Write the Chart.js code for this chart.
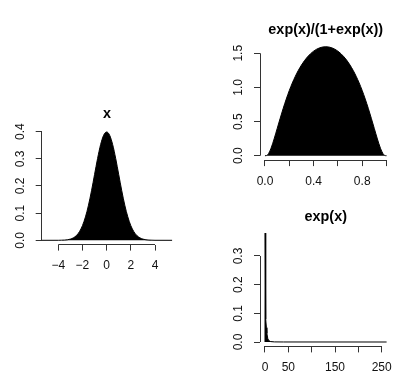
<!DOCTYPE html>
<html>
<head>
<meta charset="utf-8">
<script src="https://cdn.jsdelivr.net/npm/chart.js@4/dist/chart.umd.min.js"></script>
<style>
  html, body { margin: 0; padding: 0; background: #fff; }
  #wrap { position: relative; width: 405px; height: 381px; }
  #wrap canvas { position: absolute; left: 0; top: 0; }
</style>
</head>
<body>
<div id="wrap">
  <canvas id="normChart" width="405" height="381"></canvas>
  <canvas id="logitChart" width="405" height="381"></canvas>
  <canvas id="expChart" width="405" height="381"></canvas>
</div>
<script>
// left panel: density of x
const normX = [-5.37, -4, -3.75, -3.5, -3.25, -3, -2.75, -2.5, -2.25, -2, -1.75, -1.5, -1.25, -1, -0.75, -0.5, -0.25,
  0, 0.25, 0.5, 0.75, 1, 1.25, 1.5, 1.75, 2, 2.25, 2.5, 2.75, 3, 3.25, 3.5, 3.75, 4, 5.43];
const normY = [0, 0.0001, 0.0004, 0.0009, 0.002, 0.0044, 0.0091, 0.0175, 0.0317, 0.054, 0.0863, 0.1295, 0.1826, 0.242, 0.3011, 0.3521, 0.3867,
  0.3989, 0.3867, 0.3521, 0.3011, 0.242, 0.1826, 0.1295, 0.0863, 0.054, 0.0317, 0.0175, 0.0091, 0.0044, 0.002, 0.0009, 0.0004, 0.0001, 0];
const normXTicks = [-4, -2, 0, 2, 4];
const normXLabels = ["\u22124", "\u22122", "0", "2", "4"];
const normYTicks = [0, 0.1, 0.2, 0.3, 0.4];
const normYLabels = ["0.0", "0.1", "0.2", "0.3", "0.4"];

// top right: density of exp(x)/(1+exp(x))
const logitX = [0, 0.01, 0.02, 0.03, 0.05, 0.075, 0.1, 0.15, 0.2, 0.25, 0.3, 0.35, 0.4, 0.45,
  0.5, 0.55, 0.6, 0.65, 0.7, 0.75, 0.8, 0.85, 0.9, 0.925, 0.95, 0.97, 0.98, 0.99, 1];
const logitY = [0, 0.001, 0.0105, 0.0326, 0.11, 0.245, 0.396, 0.694, 0.954, 1.164, 1.327, 1.448, 1.531, 1.58,
  1.596, 1.58, 1.531, 1.448, 1.327, 1.164, 0.954, 0.694, 0.396, 0.245, 0.11, 0.0326, 0.0105, 0.001, 0];
const logitXTicks = [0, 0.2, 0.4, 0.6, 0.8, 1];
const logitXLabels = ["0.0", "", "0.4", "", "0.8", ""];
const logitYTicks = [0, 0.5, 1, 1.5];
const logitYLabels = ["0.0", "0.5", "1.0", "1.5"];

// bottom right: density of exp(x)
const expX = [0, 0.4, 1, 2, 3, 4, 6, 8, 12, 20, 40, 260.5];
const expY = [0, 0.38, 0.15, 0.08, 0.05, 0.03, 0.012, 0.005, 0.0015, 0.0004, 0.0001, 0];
const expXTicks = [0, 50, 100, 150, 200, 250];
const expXLabels = ["0", "50", "", "150", "", "250"];
const expYTicks = [0, 0.1, 0.2, 0.3];
const expYLabels = ["0.0", "0.1", "0.2", "0.3"];

const FONT = "'Liberation Sans', Arial, Helvetica, sans-serif";
const AXIS_COLOR = "#333";
const TEXT_COLOR = "#111";

function alignPx(p) {
  return Math.round(p - 0.5) + 0.5;
}

// R draws the axis line only from the first to the last tick
const rAxisLines = {
  id: "rAxisLines",
  afterDraw(chart) {
    const ctx = chart.ctx;
    const area = chart.chartArea;
    const sx = chart.scales.x, sy = chart.scales.y;
    ctx.save();
    ctx.strokeStyle = AXIS_COLOR;
    ctx.lineWidth = 1;
    ctx.beginPath();
    const yb = alignPx(area.bottom);
    ctx.moveTo(sx.getPixelForValue(sx.ticks[0].value), yb);
    ctx.lineTo(sx.getPixelForValue(sx.ticks[sx.ticks.length - 1].value), yb);
    const xl = alignPx(area.left);
    ctx.moveTo(xl, sy.getPixelForValue(sy.ticks[0].value));
    ctx.lineTo(xl, sy.getPixelForValue(sy.ticks[sy.ticks.length - 1].value));
    ctx.stroke();
    ctx.restore();
  },
};

function makePanel(id, cfg) {
  const el = document.getElementById(id);
  const points = cfg.xs.map((x, i) => ({ x: x, y: cfg.ys[i] }));
  return new Chart(el.getContext("2d"), {
    type: "line",
    data: {
      datasets: [{
        data: points,
        borderColor: "#000",
        backgroundColor: "#000",
        borderWidth: 1,
        fill: "origin",
        pointRadius: 0,
        cubicInterpolationMode: cfg.smooth ? "monotone" : "default",
        tension: 0,
      }],
    },
    options: {
      responsive: false,
      animation: false,
      events: [],
      layout: { padding: cfg.padding },
      plugins: {
        legend: { display: false },
        tooltip: { enabled: false },
        title: {
          display: true,
          text: cfg.title,
          fullSize: false,
          color: "#000",
          font: { family: FONT, size: 14.4, weight: "bold" },
          padding: { top: 0, bottom: cfg.titleGap },
        },
      },
      scales: {
        x: {
          type: "linear",
          min: cfg.xMin,
          max: cfg.xMax,
          afterBuildTicks: (s) => { s.ticks = cfg.xTicks.map((v) => ({ value: v })); },
          afterFit: (s) => { s.height = 30; },
          grid: { drawOnChartArea: false, drawTicks: true, tickLength: 6, color: AXIS_COLOR },
          border: { display: false },
          ticks: {
            autoSkip: false,
            maxRotation: 0,
            padding: 8,
            color: TEXT_COLOR,
            font: { family: FONT, size: 12 },
            callback: (v, i) => cfg.xLabels[i],
          },
        },
        y: {
          type: "linear",
          min: cfg.yMin,
          max: cfg.yMax,
          afterBuildTicks: (s) => { s.ticks = cfg.yTicks.map((v) => ({ value: v })); },
          afterFit: (s) => { s.width = cfg.yWidth; },
          grid: { drawOnChartArea: false, drawTicks: true, tickLength: 6, color: AXIS_COLOR },
          border: { display: false },
          ticks: {
            autoSkip: false,
            minRotation: 90,
            maxRotation: 90,
            crossAlign: "center",
            padding: 6.6,
            color: TEXT_COLOR,
            font: { family: FONT, size: 12 },
            callback: (v, i) => cfg.yLabels[i],
          },
        },
      },
    },
    plugins: [rAxisLines],
  });
}

makePanel("normChart", {
  title: "x",
  xs: normX, ys: normY, smooth: true,
  xMin: -5.37, xMax: 5.43, yMin: -0.0158, yMax: 0.4158,
  xTicks: normXTicks, xLabels: normXLabels, yTicks: normYTicks, yLabels: normYLabels,
  yWidth: 41.7, titleGap: 4.4,
  padding: { left: 0, right: 232.7, top: 105.7, bottom: 106.4 },
});

makePanel("logitChart", {
  title: "exp(x)/(1+exp(x))",
  xs: logitX, ys: logitY, smooth: true,
  xMin: -0.041, xMax: 1.041, yMin: -0.0644, yMax: 1.6596,
  xTicks: logitXTicks, xLabels: logitXLabels, yTicks: logitYTicks, yLabels: logitYLabels,
  yWidth: 40, titleGap: 3.3,
  padding: { left: 220, right: 13.5, top: 21.8, bottom: 190.9 },
});

makePanel("expChart", {
  title: "exp(x)",
  xs: expX, ys: expY, smooth: false,
  xMin: -10.7, xMax: 271, yMin: -0.0153, yMax: 0.3945,
  xTicks: expXTicks, xLabels: expXLabels, yTicks: expYTicks, yLabels: expYLabels,
  yWidth: 40, titleGap: 3.2,
  padding: { left: 220, right: 13.5, top: 208.4, bottom: 4.6 },
});
</script>
</body>
</html>
